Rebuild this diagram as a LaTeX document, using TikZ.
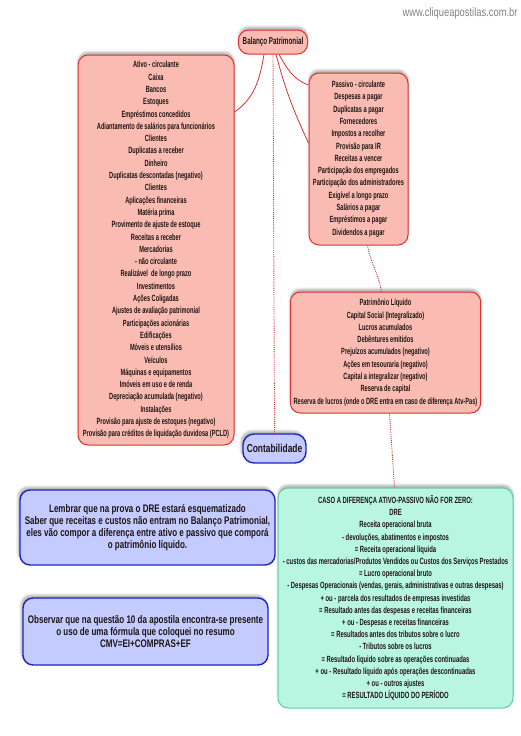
\documentclass[tikz,border=0pt]{standalone}
\usepackage{fontspec}
\setmainfont{Liberation Sans}
\newfontfamily\boxfont{Liberation Sans}[FakeStretch=0.63]
\newfontfamily\drefont{Liberation Sans}[FakeStretch=0.655]
\newfontfamily\notefont{Liberation Sans}[FakeStretch=0.73]
\newfontfamily\webfont{Liberation Sans}[FakeStretch=0.78]
\usetikzlibrary{shapes,arrows,positioning,shadows.blur}
\definecolor{pinkfill}{RGB}{250,188,178}
\definecolor{pinkline}{RGB}{222,48,48}
\definecolor{bluefill}{RGB}{196,204,255}
\definecolor{blueline}{RGB}{28,36,196}
\definecolor{mintfill}{RGB}{184,246,226}
\definecolor{mintline}{RGB}{96,204,164}
\definecolor{inkcol}{RGB}{30,20,20}

\begin{document}
\begin{tikzpicture}[
    x=1pt, y=1pt,
    every node/.style={align=center, text=inkcol}
]

% Define styles
\tikzstyle{pinkbox} = [rectangle, draw=pinkline, line width=1pt, fill=pinkfill,
    rounded corners=10pt, font=\boxfont\bfseries\fontsize{9}{12.3}\selectfont,
    blur shadow={shadow xshift=0pt, shadow yshift=3pt, shadow blur steps=6, shadow opacity=30}]
\tikzstyle{bluebox} = [rectangle, draw=blueline, line width=1.4pt, fill=bluefill,
    rounded corners=10pt, inner xsep=1pt, font=\notefont\bfseries\fontsize{11}{11.8}\selectfont,
    blur shadow={shadow xshift=-2pt, shadow yshift=3pt, shadow blur steps=6, shadow opacity=30}]
\tikzstyle{mintbox} = [rectangle, draw=mintline, line width=1pt, fill=mintfill,
    rounded corners=10pt, font=\drefont\bfseries\fontsize{9}{12.2}\selectfont,
    blur shadow={shadow xshift=0pt, shadow yshift=3pt, shadow blur steps=6, shadow opacity=30}]
\tikzstyle{link} = [draw=pinkline, line width=0.8pt]
\tikzstyle{dotlink} = [draw=pinkline, line width=0.9pt, densely dotted]

\useasboundingbox (0,0) rectangle (520,-736);

% Nodes
\node [font=\webfont\fontsize{12}{12}\selectfont, text=gray] (web) at (460,-13) {www.cliqueapostilas.com.br};

\node [pinkbox, minimum width=69pt, minimum height=24pt,
    font=\boxfont\bfseries\fontsize{10}{12}\selectfont] (bp) at (273,-42) {Balanço Patrimonial};

\node [pinkbox, minimum width=156pt, minimum height=390pt] (ativo) at (156,-250) {%
Ativo - circulante\\ Caixa\\ Bancos\\ Estoques\\ Empréstimos concedidos\\
Adiantamento de salários para funcionários\\ Clientes\\ Duplicatas a receber\\
Dinheiro\\ Duplicatas descontadas (negativo)\\ Clientes\\ Aplicações financeiras\\
Matéria prima\\ Provimento de ajuste de estoque\\ Receitas a receber\\ Mercadorias\\
- não circulante\\ Realizável\ \ de longo prazo\\ Investimentos\\ Ações Coligadas\\
Ajustes de avaliação patrimonial\\ Participações acionárias\\ Edificações\\
Móveis e utensílios\\ Veículos\\ Máquinas e equipamentos\\ Imóveis em uso e de renda\\
Depreciação acumulada (negativo)\\ Instalações\\
Provisão para ajuste de estoques (negativo)\\
Provisão para créditos de liquidação duvidosa (PCLD)};

\node [pinkbox, minimum width=99pt, minimum height=172pt] (passivo) at (358.5,-159) {%
Passivo - circulante\\ Despesas a pagar\\ Duplicatas a pagar\\ Fornecedores\\
Impostos a recolher\\ Provisão para IR\\ Receitas a vencer\\
Participação dos empregados\\ Participação dos administradores\\
Exigível a longo prazo\\ Salários a pagar\\ Empréstimos a pagar\\ Dividendos a pagar};

\node [pinkbox, minimum width=189pt, minimum height=121pt] (pl) at (385.5,-352.5) {%
Patrimônio Líquido\\ Capital Social (Integralizado)\\ Lucros acumulados\\
Debêntures emitidos\\ Prejuízos acumulados (negativo)\\ Ações em tesouraria (negativo)\\
Capital a integralizar (negativo)\\ Reserva de capital\\
Reserva de lucros (onde o DRE entra em caso de diferença Atv-Pas)};

\node [bluebox, minimum width=63pt, minimum height=29pt, rounded corners=11pt,
    font=\notefont\bfseries\fontsize{11.5}{12}\selectfont] (cont) at (274.5,-448.5) {Contabilidade};

\node [bluebox, minimum width=255pt, minimum height=75pt] (lembrar) at (147.5,-527.5) {%
Lembrar que na prova o DRE estará esquematizado\\
Saber que receitas e custos não entram no Balanço Patrimonial,\\
eles vão compor a diferença entre ativo e passivo que comporá\\
o patrimônio líquido.};

\node [bluebox, minimum width=245pt, minimum height=67pt] (observar) at (145.5,-631.5) {%
Observar que na questão 10 da apostila encontra-se presente\\
o uso de uma fórmula que coloquei no resumo\\
CMV=EI+COMPRAS+EF};

\node [mintbox, minimum width=235pt, minimum height=220pt] (dre) at (395.5,-598) {%
CASO A DIFERENÇA ATIVO-PASSIVO NÃO FOR ZERO:\\ DRE\\ Receita operacional bruta\\
- devoluções, abatimentos e impostos\\ = Receita operacional líquida\\
- custos das mercadorias/Produtos Vendidos ou Custos dos Serviços Prestados\\
= Lucro operacional bruto\\
- Despesas Operacionais (vendas, gerais, administrativas e outras despesas)\\
+ ou - parcela dos resultados de empresas investidas\\
= Resultado antes das despesas e receitas financeiras\\
+ ou - Despesas e receitas financeiras\\ = Resultados antes dos tributos sobre o lucro\\
- Tributos sobre os lucros\\ = Resultado líquido sobre as operações continuadas\\
+ ou - Resultado líquido após operações descontinuadas\\ + ou - outros ajustes\\
= RESULTADO LÍQUIDO DO PERÍODO};

% Paths
\path [link] ([xshift=-9pt]bp.south) to[out=-100, in=35] ([yshift=138pt]ativo.east);
\path [link] ([xshift=6pt]bp.south) to[out=-60, in=160] ([yshift=74pt]passivo.west);
\path [link] ([xshift=3pt]bp.south) to[out=-75, in=115] ([yshift=16pt]passivo.west);
\path [dotlink] (bp.south) -- (cont.north);
\path [dotlink] ([xshift=9pt]passivo.south) to[out=-80, in=100] ([xshift=-4pt]pl.north);
\path [dotlink] ([xshift=4pt]pl.south) -- ([xshift=-1pt]dre.north);

\end{tikzpicture}
\end{document}
